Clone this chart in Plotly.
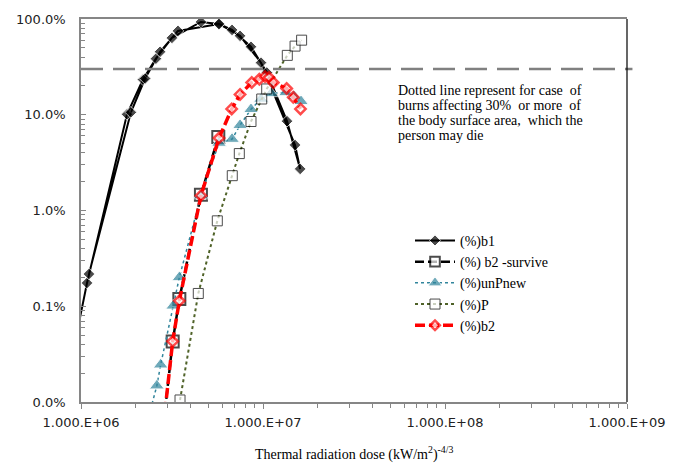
import plotly.graph_objects as go

# ---------------- data ----------------
# (%)b1 : traced forward then back (double line in the source chart)
b1_x = [0.963e6, 1.079e6, 1.79e6, 2.19e6, 2.58e6, 3.16e6, 4.56e6, 5.73e6, 6.76e6, 8.59e6, 1.05e7, 1.355e7, 1.60e7,
        1.50e7, 9.75e6, 7.48e6, 5.73e6, 3.41e6, 2.72e6, 2.25e6, 1.88e6, 1.106e6]
b1_y = [0.060, 0.175, 10.1, 23.3, 38.5, 63.5, 93.1, 88.7, 76.9, 51.3, 27.6, 8.57, 2.72,
        4.83, 35.0, 66.7, 88.7, 75.1, 45.5, 23.9, 10.6, 0.217]

b2s_x = [2.89e6, 3.19e6, 3.47e6, 4.56e6, 5.68e6]
b2s_y = [0.0079, 0.0429, 0.119, 1.46, 5.85]

unp_x = [2.41e6, 2.61e6, 2.74e6, 3.21e6, 3.47e6, 4.56e6, 5.73e6, 6.76e6, 7.48e6, 8.59e6, 9.75e6, 1.107e7, 1.337e7, 1.48e7, 1.618e7]
unp_y = [0.0083, 0.0148, 0.0245, 0.101, 0.20, 1.43, 5.07, 5.57, 7.78, 11.4, 14.6, 16.7, 17.1, 15.6, 13.8]

p_x = [3.50e6, 4.41e6, 5.61e6, 6.78e6, 7.41e6, 8.59e6, 9.84e6, 1.048e7, 1.36e7, 1.50e7, 1.63e7]
p_y = [0.0105, 0.136, 0.78, 2.31, 3.93, 8.5, 14.6, 18.6, 41.7, 52.1, 60.1]

b2_x = [2.89e6, 3.19e6, 3.47e6, 4.56e6, 5.73e6, 6.73e6, 7.48e6, 8.67e6, 9.55e6, 1.026e7, 1.079e7, 1.139e7, 1.349e7, 1.466e7, 1.607e7]
b2_y = [0.0079, 0.043, 0.114, 1.43, 5.71, 11.5, 16.3, 21.7, 23.5, 25.0, 24.5, 21.7, 18.8, 15.2, 11.5]

threshold = 30  # % burns line

y_tickvals = [0.01, 0.1, 1, 10, 100]
y_ticktext = ["0.0%", "0.1%", "1.0%", "10.0%", "100.0%"]
x_tickvals = [1e6, 1e7, 1e8, 1e9]
x_ticktext = ["1.000.E+06", "1.000.E+07", "1.000.E+08", "1.000.E+09"]

note_lines = ["Dotted line represent for case  of",
              "burns affecting 30%  or more  of",
              "the body surface area,  which the",
              "person may die"]
x_title = "Thermal radiation dose (kW/m<sup>2</sup>)<sup>-4/3</sup>"

# ---------------- figure ----------------
def sizes(xs, ys, s):
    return [0 if (x < 1e6 or y < 0.01) else s for x, y in zip(xs, ys)]

fig = go.Figure()
fig.add_trace(go.Scatter(x=b1_x, y=b1_y, name="(%)b1", mode="lines+markers",
                         line=dict(color="black", width=2),
                         marker=dict(symbol="diamond", size=sizes(b1_x, b1_y, 9), color="black")))
fig.add_trace(go.Scatter(x=b2s_x, y=b2s_y, name="(%) b2 -survive", mode="lines+markers",
                         line=dict(color="black", width=2.5, dash="9px,4px"),
                         marker=dict(symbol="square", size=sizes(b2s_x, b2s_y, 12), color="white",
                                     line=dict(color="black", width=2))))
fig.add_trace(go.Scatter(x=unp_x, y=unp_y, name="(%)unPnew", mode="lines+markers",
                         line=dict(color="#31859C", width=1.5, dash="dot"),
                         marker=dict(symbol="triangle-up", size=sizes(unp_x, unp_y, 13), color="#31859C")))
fig.add_trace(go.Scatter(x=p_x, y=p_y, name="(%)P", mode="lines+markers",
                         line=dict(color="#4F6228", width=2, dash="dot"),
                         marker=dict(symbol="square", size=sizes(p_x, p_y, 10), color="white",
                                     line=dict(color="black", width=1))))
fig.add_trace(go.Scatter(x=b2_x, y=b2_y, name="(%)b2", mode="lines+markers",
                         line=dict(color="#FF0000", width=3.5, dash="10px,4px"),
                         marker=dict(symbol="diamond", size=sizes(b2_x, b2_y, 8), color="white",
                                     line=dict(color="#FF0000", width=2.5))))

# threshold dashed line
fig.add_shape(type="line", xref="paper", yref="y", x0=0, x1=1.01,
              y0=threshold, y1=threshold,
              line=dict(color="#808080", width=2.5, dash="22px,10px"), layer="above")
# right border (black)
fig.add_shape(type="line", xref="paper", yref="paper", x0=1, x1=1, y0=0, y1=1,
              line=dict(color="black", width=1.2))

for i, t in enumerate(note_lines):
    fig.add_annotation(text=t, xref="paper", yref="paper", x=(396 - 81) / 546, y=1,
                       yshift=-(86 - 15) - i * 15, xanchor="left", yanchor="middle",
                       showarrow=False, font=dict(family="Liberation Serif", size=14, color="black"))

fig.add_annotation(text=x_title, xref="paper", yref="paper", x=0.5, y=0, yshift=-40,
                   xanchor="center", yanchor="top", showarrow=False,
                   font=dict(family="Liberation Serif", size=14, color="black"))

minor_x = [k * 10 ** n for n in range(6, 9) for k in range(2, 10)]
minor_y = [k * 10 ** n for n in range(-2, 2) for k in range(2, 10)]

fig.update_xaxes(type="log", range=[6, 9], tickvals=x_tickvals, ticktext=x_ticktext,
                 showgrid=False, zeroline=False, showline=True, linecolor="#868686", linewidth=1.5,
                 mirror=True, ticks="outside", ticklen=5, tickcolor="#868686", tickwidth=1,
                 ticklabelstandoff=3,
                 tickfont=dict(family="DejaVu Sans", size=13, color="#222"),
                 minor=dict(tickvals=minor_x, ticks="outside", ticklen=4, tickcolor="#868686"))
fig.update_yaxes(type="log", range=[-2, 2], tickvals=y_tickvals, ticktext=y_ticktext,
                 showgrid=False, zeroline=False, showline=True, linecolor="#868686", linewidth=1.5,
                 ticks="inside", ticklen=5, tickcolor="#868686", tickwidth=1,
                 ticklabelstandoff=11,
                 tickfont=dict(family="DejaVu Sans", size=13, color="#222"),
                 minor=dict(tickvals=minor_y, ticks="inside", ticklen=4, tickcolor="#868686"))

fig.update_layout(width=685, height=464, margin=dict(l=81, r=58, t=15, b=62),
                  paper_bgcolor="white", plot_bgcolor="white",
                  showlegend=True,
                  legend=dict(x=(410 - 81) / 546, y=(402 - 223) / 387, xanchor="left", yanchor="top",
                              bgcolor="rgba(0,0,0,0)", font=dict(family="Liberation Serif", size=14, color="black"),
                              itemwidth=40, tracegroupgap=0))
fig.write_html("out.html")
